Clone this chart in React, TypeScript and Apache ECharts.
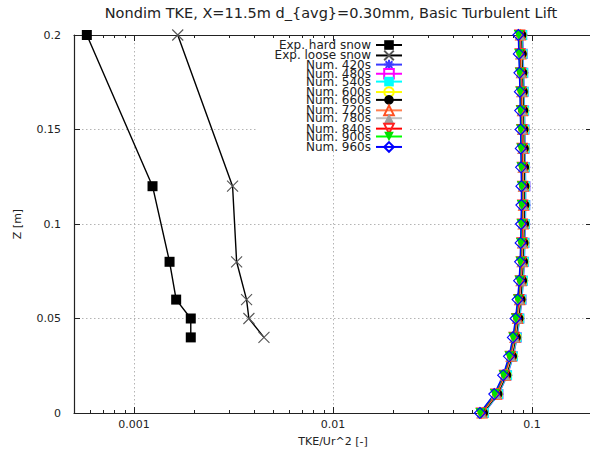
import React, { useEffect, useRef } from "react";
import * as echarts from "echarts";

// Heights of the numerical profile (m)
const heights = [0, 0.01, 0.02, 0.03, 0.04, 0.05, 0.06, 0.07, 0.08, 0.09, 0.1, 0.11, 0.12, 0.13, 0.14, 0.15, 0.16, 0.17, 0.18, 0.19, 0.2];

// Experimental profiles
const expHeights = [0.2, 0.12, 0.08, 0.06, 0.05, 0.04];
const hardSnowTke = [0.00058, 0.00124, 0.00151, 0.00163, 0.00193, 0.00193];
const looseSnowTke = [0.00166, 0.00313, 0.00328, 0.00368, 0.00378, 0.0045];

// Numerical TKE/Ur^2 profiles at successive times
const num420 = [0.0575, 0.0679, 0.0752, 0.0805, 0.0841, 0.0867, 0.0888, 0.0904, 0.0914, 0.092, 0.0925, 0.0928, 0.0928, 0.0925, 0.0923, 0.092, 0.0916, 0.0912, 0.0907, 0.0901, 0.0897];
const num480 = [0.0571, 0.0677, 0.0748, 0.08, 0.0838, 0.0862, 0.0885, 0.0899, 0.0911, 0.0914, 0.0921, 0.0923, 0.0925, 0.0921, 0.0917, 0.0916, 0.0911, 0.0907, 0.0902, 0.0897, 0.0891];
const num540 = [0.0572, 0.0676, 0.0749, 0.0801, 0.0837, 0.0863, 0.0884, 0.09, 0.091, 0.0915, 0.092, 0.0924, 0.0924, 0.092, 0.0918, 0.0915, 0.0912, 0.0908, 0.0903, 0.0896, 0.0892];
const num600 = [0.0566, 0.0669, 0.0741, 0.0794, 0.083, 0.0854, 0.0875, 0.0892, 0.0902, 0.0907, 0.0911, 0.0914, 0.0916, 0.0913, 0.091, 0.0907, 0.0904, 0.0898, 0.0893, 0.0887, 0.0883];
const num660 = [0.0567, 0.067, 0.0742, 0.0793, 0.0829, 0.0855, 0.0876, 0.0891, 0.0901, 0.0906, 0.0912, 0.0915, 0.0915, 0.0912, 0.0909, 0.0906, 0.0903, 0.0899, 0.0894, 0.0888, 0.0884];
const num720 = [0.0561, 0.0663, 0.0734, 0.0785, 0.0821, 0.0847, 0.0867, 0.0882, 0.0893, 0.0898, 0.0903, 0.0906, 0.0906, 0.0903, 0.0901, 0.0898, 0.0895, 0.089, 0.0885, 0.0879, 0.0875];
const num780 = [0.0558, 0.066, 0.0731, 0.0782, 0.0817, 0.0842, 0.0863, 0.0878, 0.0888, 0.0893, 0.0898, 0.0901, 0.0901, 0.0898, 0.0896, 0.0893, 0.089, 0.0886, 0.0881, 0.0875, 0.0871];
const num840 = [0.0556, 0.0657, 0.0727, 0.0778, 0.0813, 0.0838, 0.0859, 0.0874, 0.0884, 0.0889, 0.0894, 0.0897, 0.0897, 0.0894, 0.0892, 0.0889, 0.0886, 0.0882, 0.0877, 0.0871, 0.0867];
const num900 = [0.055, 0.065, 0.072, 0.077, 0.0805, 0.083, 0.085, 0.0865, 0.0875, 0.088, 0.0885, 0.0888, 0.0888, 0.0885, 0.0883, 0.088, 0.0877, 0.0873, 0.0868, 0.0862, 0.0858];
const num960 = [0.0547, 0.0646, 0.0716, 0.0766, 0.0801, 0.0826, 0.0846, 0.0861, 0.0871, 0.0876, 0.088, 0.0884, 0.0884, 0.0881, 0.0878, 0.0876, 0.0872, 0.0869, 0.0864, 0.0858, 0.0853];

// Axis ticks
const xMajorTicks = [0.001, 0.01, 0.1];
const xMinorTicks = [0.0006, 0.0007, 0.0008, 0.0009, 0.002, 0.003, 0.004, 0.005, 0.006, 0.007, 0.008, 0.009, 0.02, 0.03, 0.04, 0.05, 0.06, 0.07, 0.08, 0.09, 0.2];

const FONT = "DejaVu Sans";
const X_PATH = "path://M0,0L10,10M10,0L0,10";
const STAR_PATH = "path://M5,0L5,10M0,5L10,5M1.5,1.5L8.5,8.5M8.5,1.5L1.5,8.5";

type Spec = {
  name: string;
  xs: number[];
  ys: number[];
  line: string;
  symbol: string;
  rotate?: number;
  size: number;
  fill: string;
  stroke: string;
};

const specs: Spec[] = [
  { name: "Exp. hard snow", xs: hardSnowTke, ys: expHeights, line: "#000000", symbol: "rect", size: 10, fill: "#000000", stroke: "#000000" },
  { name: "Exp. loose snow", xs: looseSnowTke, ys: expHeights, line: "#000000", symbol: X_PATH, size: 11, fill: "none", stroke: "#555555" },
  { name: "Num. 420s", xs: num420, ys: heights, line: "#3b3bff", symbol: STAR_PATH, size: 10, fill: "none", stroke: "#3b3bff" },
  { name: "Num. 480s", xs: num480, ys: heights, line: "#ff00ff", symbol: "rect", size: 9, fill: "none", stroke: "#ff00ff" },
  { name: "Num. 540s", xs: num540, ys: heights, line: "#00ffff", symbol: "rect", size: 10, fill: "#00ffff", stroke: "#00ffff" },
  { name: "Num. 600s", xs: num600, ys: heights, line: "#ffff00", symbol: "circle", size: 10, fill: "none", stroke: "#ffff00" },
  { name: "Num. 660s", xs: num660, ys: heights, line: "#000000", symbol: "circle", size: 10, fill: "#000000", stroke: "#000000" },
  { name: "Num. 720s", xs: num720, ys: heights, line: "#ff7f50", symbol: "triangle", size: 10, fill: "none", stroke: "#ff5020" },
  { name: "Num. 780s", xs: num780, ys: heights, line: "#c0c0c0", symbol: "triangle", size: 10, fill: "#a0a0a0", stroke: "#a0a0a0" },
  { name: "Num. 840s", xs: num840, ys: heights, line: "#ff0000", symbol: "triangle", rotate: 180, size: 10, fill: "none", stroke: "#ff2020" },
  { name: "Num. 900s", xs: num900, ys: heights, line: "#00ff00", symbol: "triangle", rotate: 180, size: 10, fill: "#00e000", stroke: "#00e000" },
  { name: "Num. 960s", xs: num960, ys: heights, line: "#0000ff", symbol: "diamond", size: 11, fill: "none", stroke: "#0000ff" },
];

const fmt = (v: number) => String(Number(Number(v).toPrecision(3)));

export default function App() {
  const ref = useRef<HTMLDivElement | null>(null);

  useEffect(() => {
    if (!ref.current) return;
    const chart = echarts.init(ref.current, undefined, { renderer: "svg" });

    const xRange = { type: "log" as const, logBase: 10, min: 0.0005, max: 0.2 };
    const dotted = { color: "#b4b4b4", width: 1, type: [1.5, 2.5] as number[] };
    const border = { show: true, lineStyle: { color: "#222222", width: 1.2 } };

    const series = specs.map((s) => ({
      name: s.name,
      type: "line",
      xAxisIndex: 0,
      yAxisIndex: 0,
      data: s.xs.map((x, i) => [x, s.ys[i]]),
      symbol: s.symbol,
      symbolSize: s.size,
      symbolRotate: s.rotate ?? 0,
      showSymbol: true,
      showAllSymbol: true,
      clip: false,
      lineStyle: { color: s.line, width: 1.4 },
      itemStyle: {
        color: s.fill,
        borderColor: s.stroke,
        borderWidth: s.fill === "none" ? 1.1 : 0,
      },
      emphasis: { disabled: true },
    }));

    const rowCenter0 = 45;
    const rowStep = 9.15;
    const legends = specs.map((s, i) => ({
      data: [s.name],
      orient: "vertical",
      align: "right",
      right: 187,
      top: rowCenter0 + i * rowStep - 6,
      padding: 0,
      itemWidth: 26,
      itemHeight: 12,
      selectedMode: false,
      textStyle: { fontFamily: FONT, fontSize: 12, color: "#222222", lineHeight: 12 },
    }));

    chart.setOption({
      animation: false,
      backgroundColor: "#ffffff",
      grid: { left: 74, right: -2, top: 35, bottom: 39, containLabel: false, outerBoundsMode: "none" },
      xAxis: [
        {
          ...xRange,
          position: "bottom",
          name: "TKE/Ur^2 [-]",
          nameLocation: "middle",
          nameGap: 23,
          nameTextStyle: { fontFamily: FONT, fontSize: 11, color: "#222222" },
          axisLine: border,
          axisTick: { show: true, inside: true, length: 6, customValues: xMajorTicks, lineStyle: { color: "#222222" } },
          axisLabel: {
            show: true,
            customValues: xMajorTicks,
            margin: 6,
            fontFamily: FONT,
            fontSize: 11,
            color: "#222222",
            formatter: (v: number) => fmt(v),
          },
          splitLine: { show: true, lineStyle: dotted },
          minorTick: { show: false },
        },
        {
          ...xRange,
          position: "bottom",
          axisLine: { show: false },
          axisTick: { show: true, inside: true, length: 3, customValues: xMinorTicks, lineStyle: { color: "#222222" } },
          axisLabel: { show: false },
          splitLine: { show: false },
        },
        {
          ...xRange,
          position: "top",
          axisLine: border,
          axisTick: { show: true, inside: true, length: 6, customValues: xMajorTicks, lineStyle: { color: "#222222" } },
          axisLabel: { show: false },
          splitLine: { show: false },
        },
        {
          ...xRange,
          position: "top",
          axisLine: { show: false },
          axisTick: { show: true, inside: true, length: 3, customValues: xMinorTicks, lineStyle: { color: "#222222" } },
          axisLabel: { show: false },
          splitLine: { show: false },
        },
      ],
      yAxis: [
        {
          type: "value",
          position: "left",
          min: 0,
          max: 0.2,
          interval: 0.05,
          name: "Z [m]",
          nameLocation: "middle",
          nameGap: 51,
          nameRotate: 90,
          nameTextStyle: { fontFamily: FONT, fontSize: 11, color: "#222222" },
          axisLine: border,
          axisTick: { show: true, inside: true, length: 6, lineStyle: { color: "#222222" } },
          axisLabel: { margin: 13, fontFamily: FONT, fontSize: 11, color: "#222222" },
          splitLine: { show: true, lineStyle: dotted },
        },
        {
          type: "value",
          position: "right",
          min: 0,
          max: 0.2,
          interval: 0.05,
          axisLine: border,
          axisTick: { show: true, inside: true, length: 6, lineStyle: { color: "#222222" } },
          axisLabel: { show: false },
          splitLine: { show: false },
        },
      ],
      legend: legends,
      graphic: [
        {
          type: "rect",
          z: 1,
          silent: true,
          shape: { x: 258, y: 44, width: 152, height: 105 },
          style: { fill: "#ffffff" },
        },
        {
          type: "text",
          z: 5,
          x: 331,
          y: 13,
          style: {
            text: "Nondim TKE, X=11.5m d_{avg}=0.30mm, Basic Turbulent Lift",
            font: `14.5px "${FONT}"`,
            fill: "#222222",
            align: "center",
            verticalAlign: "middle",
            textAlign: "center",
            textVerticalAlign: "middle",
          },
        },
      ],
      series,
    });

    return () => chart.dispose();
  }, []);

  return (
    <div
      ref={ref}
      style={{ position: "fixed", left: 0, top: 0, width: 590, height: 452, background: "#ffffff" }}
    />
  );
}
